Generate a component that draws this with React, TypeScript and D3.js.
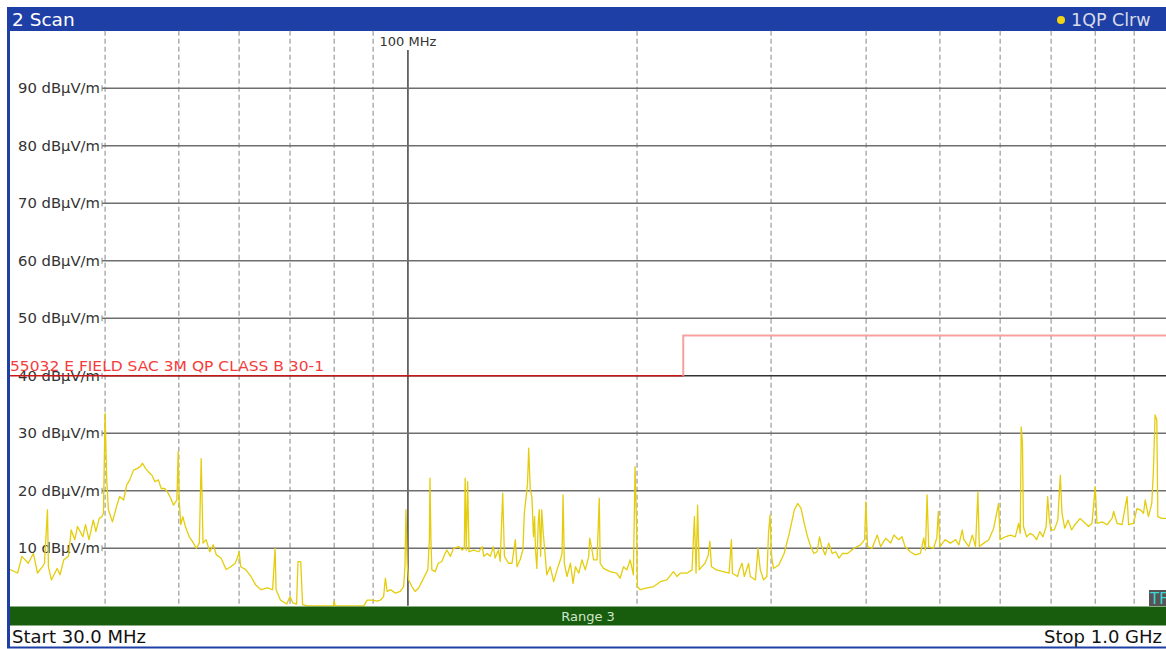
import React from 'react';
import { line, scaleLinear, scaleLog } from 'd3';

// y ticks (dBµV/m) and frequency grid (MHz)
const levelTicks = [10, 20, 30, 40, 50, 60, 70, 80, 90];
const dashedFreqs = [40, 50, 60, 70, 80, 90, 200, 300, 400, 500, 600, 700, 800, 900];
const markerFreq = 100;

// limit line: 55032 class B, 3 m
const limitFreq = [30, 230, 230, 1000];
const limitLevel = [40, 40, 47, 47];

// QP trace: [MHz, dBµV/m]
const traceLow: [number, number][] = [
  [30.0, 6.3], [30.7, 5.7], [31.1, 8.6], [31.7, 7.4], [32.2, 9.1], [32.6, 5.7], [33.1, 6.8],
  [33.3, 7.4], [33.6, 16.7], [33.7, 6.8], [34.0, 4.5], [34.6, 6.5], [34.9, 5.4], [35.3, 8.0],
  [35.8, 8.6], [36.1, 13.2], [36.5, 11.5], [36.8, 13.8], [37.4, 12.0], [37.7, 14.1], [38.1, 11.5],
  [38.6, 14.9], [38.9, 12.9], [39.3, 15.2], [39.6, 15.5], [39.8, 16.1], [40.0, 33.5], [40.2, 21.9],
  [40.4, 16.7], [40.9, 14.6], [41.4, 17.2], [41.8, 19.0], [42.3, 18.4], [42.7, 21.0], [43.1, 21.9],
  [43.6, 23.6], [44.1, 23.9], [44.5, 24.2], [44.8, 24.8], [45.2, 23.9], [45.6, 23.3], [46.1, 22.7],
  [46.5, 21.6], [47.0, 21.9], [47.4, 20.4], [47.9, 20.4], [48.3, 19.8], [48.8, 18.7], [49.2, 17.5],
  [49.7, 18.4], [49.9, 26.8], [50.05, 18.4], [50.3, 14.1], [50.6, 15.5], [51.0, 13.8], [51.6, 12.0],
  [52.1, 11.2], [52.7, 10.0], [53.2, 10.9], [53.5, 25.6], [53.8, 10.9], [54.3, 11.5], [54.9, 9.4],
  [55.5, 10.6], [56.0, 8.85], [56.8, 8.3], [57.7, 6.3], [58.5, 6.8], [59.3, 7.4], [59.8, 8.6],
  [60.0, 9.4], [60.3, 6.8], [61.2, 6.3], [62.2, 5.1], [63.1, 3.6], [64.1, 2.8], [65.4, 3.1],
  [66.4, 2.8], [66.9, 10.0], [67.1, 2.8], [68.0, 1.0], [69.3, 0.3], [70.0, 1.6], [70.6, 0.5],
  [71.4, 0.3], [71.7, 7.7], [72.3, 7.7], [72.7, 0.2], [73.8, 0], [79.8, 0], [80.0, 0.8],
  [80.2, 0], [87.5, 0], [88.4, 1.0], [89.7, 1.0], [91.1, 0.8],
];

const traceMid: [number, number][] = [
  [92.0, 1.0], [92.9, 1.6], [93.4, 4.8], [93.9, 2.5], [94.9, 2.8], [96.3, 2.2], [97.7, 2.5],
  [98.7, 3.35], [99.1, 6.8], [99.4, 16.7], [99.8, 7.1], [100.2, 4.5], [101.2, 3.35], [102.2, 2.5],
  [103.3, 3.1], [104.3, 4.2], [105.4, 5.4], [106.2, 6.25], [106.7, 11.5], [106.9, 22.2], [107.2, 11.5],
  [107.5, 6.25], [108.6, 5.95], [109.6, 7.4], [110.8, 7.7], [111.9, 9.1], [112.5, 9.7], [113.7, 8.6],
  [114.8, 10.0], [116.6, 10.3], [117.8, 9.7], [118.6, 10.0], [118.9, 22.2], [119.3, 9.7], [119.8, 21.6],
  [120.3, 9.4], [122.0, 9.7], [123.9, 9.4], [125.2, 10.3], [125.8, 8.6], [127.1, 9.1], [128.3, 8.6],
  [129.5, 10.3], [130.2, 8.3], [131.5, 9.7], [132.2, 7.7], [133.2, 19.6], [133.9, 8.6], [135.6, 7.4],
  [137.0, 7.4], [138.4, 11.5], [139.1, 6.8], [140.4, 8.0], [141.6, 9.7], [142.2, 16.1], [143.0, 19.0],
  [143.6, 21.3], [144.1, 27.4], [144.8, 20.1], [145.5, 19.0], [146.2, 12.0], [146.7, 15.5], [147.1, 9.7],
  [147.7, 6.5], [148.3, 14.35], [148.8, 16.7], [149.4, 8.6], [149.9, 16.7], [150.6, 12.6], [151.4, 9.1],
  [152.2, 5.4], [153.8, 6.8], [155.4, 4.2], [157.0, 6.25], [158.6, 8.0], [159.4, 9.1], [159.9, 19.3],
  [160.5, 7.4], [161.8, 5.1], [163.5, 7.4], [164.8, 3.9], [166.0, 6.8], [167.7, 5.67], [169.3, 8.0],
  [171.0, 6.25], [172.8, 8.6], [173.3, 11.75], [174.2, 10.3], [175.4, 8.0], [177.2, 8.0], [178.4, 18.7],
  [178.9, 7.4], [180.7, 6.5], [184.4, 5.95], [188.1, 5.67], [190.0, 4.8], [192.0, 6.8], [193.9, 6.25],
  [195.9, 8.0], [197.8, 5.4], [198.8, 24.2], [199.8, 12.6], [200.2, 3.35], [201.9, 2.8], [206.2, 3.1],
  [210.4, 3.35], [214.6, 4.2], [218.9, 4.5], [223.3, 5.95], [225.6, 5.1], [227.9, 5.67], [232.6, 5.67],
  [236.2, 6.25], [237.9, 15.5], [239.1, 5.67], [240.2, 17.5], [241.4, 6.25], [243.4, 6.8], [245.7, 7.4],
  [248.1, 8.85], [249.3, 11.2], [250.5, 6.8], [254.4, 6.25], [259.5, 5.95], [264.2, 5.67], [266.1, 11.5],
  [266.9, 5.67], [271.1, 5.1], [272.5, 6.25], [274.8, 7.4], [276.7, 5.1], [280.3, 7.4], [281.7, 5.1],
  [286.1, 4.5], [288.4, 10.0], [290.4, 6.25], [293.3, 4.5], [296.2, 5.1], [297.7, 12.6], [299.1, 15.8],
  [300.5, 8.6], [302.2, 6.5], [307.1, 7.1],
];

const traceHigh: [number, number][] = [
  [312.1, 9.1], [317, 12.6], [321.9, 16.7], [325.2, 17.8], [328.4, 17.0], [331.7, 14.35], [335, 12.0],
  [338.2, 10.3], [341.5, 9.1], [344.8, 9.4], [347.4, 12.0], [349.7, 10.3], [353.4, 8.85], [357.2, 10.9],
  [361, 9.1], [364.8, 9.4], [368.5, 8.3], [372.4, 9.1], [378.1, 9.1], [385.6, 10.0], [393.2, 10.6],
  [398.1, 11.5], [399.7, 18.1], [401.7, 10.3], [407.3, 10.0], [413.7, 12.3], [417.9, 10.3], [424.4, 11.75],
  [430.8, 10.9], [435, 12.3], [441.4, 11.5], [445.8, 12.0], [450, 10.3], [457.1, 9.4], [464.3, 8.85],
  [471.4, 9.1], [476.2, 11.75], [478.6, 9.7], [481, 19.3], [483.3, 10.3], [490.4, 10.0], [495.3, 11.75],
  [497.6, 16.4], [500, 10.3], [508.1, 11.5], [516.1, 10.9], [524.2, 11.5], [529.6, 10.6], [535, 13.2],
  [537.6, 11.5], [545.7, 10.3], [551.5, 12.3], [556.9, 10.3], [560.9, 19.8], [563.3, 10.3], [571.2, 10.9],
  [579.8, 11.5], [588.4, 13.5], [597.1, 17.8], [600, 11.5], [609.4, 12.0], [618.8, 12.3], [628.2, 12.0],
  [634.4, 14.35], [637.6, 12.6], [639.5, 31.1], [641.9, 28.2], [643.8, 13.8], [650, 12.0], [656.7, 12.6],
  [663.2, 12.3], [669.9, 11.5], [676.4, 12.9], [682.9, 12.0], [689.6, 13.8], [692.7, 19.0], [696.1, 15.2],
  [699.4, 13.2], [706.8, 13.2], [714.3, 14.9], [719.8, 22.7], [723.4, 16.1], [729.5, 13.5], [737, 14.9],
  [744.8, 13.2], [752.4, 14.1], [764.3, 15.2], [776.2, 14.35], [784, 13.8], [792.1, 14.35], [800, 20.7],
  [804.2, 14.35], [816.7, 14.6], [829.2, 14.1], [841.7, 15.2], [845.8, 16.4], [854.5, 14.35], [867.6, 14.1],
  [880.8, 19.0], [885, 14.1], [898.2, 14.35], [907.5, 16.9], [916.7, 16.7], [925.9, 16.1], [930.6, 18.4],
  [939.7, 15.5], [949.2, 17.8], [953.8, 23.3], [958.8, 33.2], [963.8, 32.3], [966.8, 15.5], [978.5, 15.2],
  [991.2, 15.2], [1000, 15.0],
];

const W = 1166;
const H = 649;
const FONT = 'DejaVu Sans, Verdana, sans-serif';

const App: React.FC = () => {
  const plotLeft = 10;
  const plotTop = 30.8;
  const plotBottom = 605.8;

  const x = scaleLog().domain([30, 1000]).range([plotLeft, 1169]);
  const y = scaleLinear().domain([0, 100]).range([plotBottom, plotTop]);

  const trace = [...traceLow, ...traceMid, ...traceHigh];
  const tracePath = line<[number, number]>()
    .x((d) => x(d[0]))
    .y((d) => y(d[1]))(trace);

  const limitPts = limitFreq.map((f, i) => [f, limitLevel[i]] as [number, number]);
  const limitLine = line<[number, number]>()
    .x((d) => x(d[0]))
    .y((d) => y(d[1]));

  return (
    <svg
      width={W}
      height={H}
      style={{ position: 'absolute', left: 0, top: 0, background: '#fff' }}
      fontFamily={FONT}
    >
      <defs>
        <clipPath id="plot">
          <rect x={plotLeft} y={plotTop} width={W - plotLeft} height={plotBottom - plotTop + 1} />
        </clipPath>
      </defs>

      {/* title bar */}
      <rect x={7} y={7} width={W - 7} height={24} fill="#1e40a6" />
      <text x={12} y={26} fill="#fff" fontSize={18.5}>2 Scan</text>
      <circle cx={1061} cy={20} r={4} fill="#f2d414" />
      <text x={1071} y={26} fill="#d8dbe8" fontSize={17.5}>1QP Clrw</text>

      {/* left frame */}
      <rect x={7} y={7} width={3} height={641} fill="#1e40a6" />

      {/* vertical grid */}
      {dashedFreqs.map((f) => (
        <line
          key={f}
          x1={x(f)}
          x2={x(f)}
          y1={plotTop}
          y2={plotBottom}
          stroke="#9a9a9a"
          strokeWidth={1.2}
          strokeDasharray="5 3"
        />
      ))}
      <line x1={x(markerFreq)} x2={x(markerFreq)} y1={50} y2={plotBottom} stroke="#222" strokeWidth={1.3} />
      <text x={x(markerFreq)} y={46} textAnchor="middle" fill="#333" fontSize={13}>100 MHz</text>

      {/* horizontal grid + labels */}
      {levelTicks.map((v) => (
        <g key={v}>
          <line
            x1={102}
            x2={W}
            y1={y(v)}
            y2={y(v)}
            stroke={v === 40 ? '#333' : '#6e6e6e'}
            strokeWidth={1.6}
          />
          <line x1={102} x2={102} y1={y(v) - 3} y2={y(v) + 3} stroke="#888" strokeWidth={1} />
          <text x={18} y={y(v) + 5} fill="#333" fontSize={14} textLength={82} lengthAdjust="spacingAndGlyphs">
            {`${v} dBµV/m`}
          </text>
        </g>
      ))}

      {/* limit line */}
      <path d={limitLine(limitPts.slice(0, 2)) || ''} stroke="#c81818" strokeWidth={1.4} fill="none" />
      <path d={limitLine(limitPts.slice(1)) || ''} stroke="#f7a0a0" strokeWidth={2} fill="none" />
      <text x={10} y={371} fill="#f43c3c" fontSize={13.5} textLength={314} lengthAdjust="spacingAndGlyphs">
        55032 E FIELD SAC 3M QP CLASS B 30-1
      </text>

      {/* trace */}
      <g clipPath="url(#plot)">
        <path d={tracePath || ''} stroke="#e4cd0c" strokeWidth={1.3} fill="none" strokeLinejoin="round" />
      </g>

      {/* TF box */}
      <rect x={1149} y={590} width={17} height={16} fill="#555" />
      <text x={1150} y={604} fill="#3fd6d6" fontSize={15}>TF</text>

      {/* range bar */}
      <rect x={10} y={606.5} width={W - 10} height={19} fill="#185c0e" />
      <text x={588} y={621} textAnchor="middle" fill="#cfe6c9" fontSize={13}>Range 3</text>

      {/* footer */}
      <text x={12} y={643} fill="#111" fontSize={18}>Start 30.0 MHz</text>
      <text x={1162} y={643} textAnchor="end" fill="#111" fontSize={18}>Stop 1.0 GHz</text>
      <rect x={7} y={646.5} width={W - 7} height={2} fill="#1e40a6" />
    </svg>
  );
};

export default App;
